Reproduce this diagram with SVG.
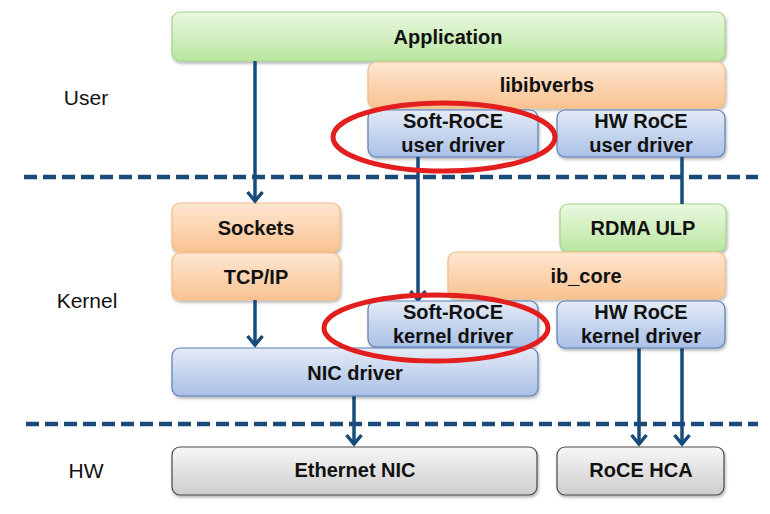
<svg xmlns="http://www.w3.org/2000/svg" width="770" height="514" viewBox="0 0 770 514">
<defs>
<linearGradient id="gGreen" x1="0" y1="0" x2="0" y2="1"><stop offset="0" stop-color="#eaf8e0"/><stop offset="1" stop-color="#b9e6a0"/></linearGradient>
<linearGradient id="gOrange" x1="0" y1="0" x2="0" y2="1"><stop offset="0" stop-color="#fde7d2"/><stop offset="1" stop-color="#f9c290"/></linearGradient>
<linearGradient id="gBlue" x1="0" y1="0" x2="0" y2="1"><stop offset="0" stop-color="#e4ebf6"/><stop offset="1" stop-color="#a9c0e6"/></linearGradient>
<linearGradient id="gGray" x1="0" y1="0" x2="0" y2="1"><stop offset="0" stop-color="#f7f7f7"/><stop offset="1" stop-color="#cdcdcd"/></linearGradient>
<filter id="sh" x="-5%" y="-10%" width="110%" height="130%"><feDropShadow dx="1" dy="2" stdDeviation="1.5" flood-color="#000" flood-opacity="0.3"/></filter>
<marker id="arr" markerUnits="userSpaceOnUse" markerWidth="16" markerHeight="18" viewBox="0 0 16 18" refX="11" refY="9" orient="auto">
<path d="M2,1.5 L11,9 L2,16.5" fill="none" stroke="#174b7c" stroke-width="3.5"/>
</marker>
<style>
.box{filter:url(#sh);}
.green{fill:url(#gGreen);stroke:#a6d38b;stroke-width:1.2;}
.orange{fill:url(#gOrange);stroke:#f3bd86;stroke-width:1.2;}
.blue{fill:url(#gBlue);stroke:#5d7fb6;stroke-width:1.2;}
.gray{fill:url(#gGray);stroke:#4a4a4a;stroke-width:1.2;}
.t{font-family:"Liberation Sans",Arial,sans-serif;font-size:20px;font-weight:bold;fill:#111;text-anchor:middle;}
.lbl{font-family:"Liberation Sans",Arial,sans-serif;font-size:21px;fill:#111;text-anchor:middle;}
.dash{stroke:#1a4a78;stroke-width:4.5;stroke-dasharray:13 6;fill:none;}
.con{stroke:#174b7c;stroke-width:3.5;fill:none;}
.ell{fill:none;stroke:#e31e1e;stroke-width:5;}
</style>
</defs>
<rect width="770" height="514" fill="#fff"/>

<g id="labels">
<text class="lbl" x="86" y="105">User</text>
<text class="lbl" x="87" y="308">Kernel</text>
<text class="lbl" x="86" y="478">HW</text>
</g>

<g id="separators">
<line class="dash" x1="24" y1="177" x2="758" y2="177"/>
<line class="dash" x1="26" y1="424" x2="758" y2="424"/>
</g>

<g id="application"><rect class="box green" x="172" y="12" width="553" height="49" rx="8"/><text class="t" x="448" y="44">Application</text></g>
<g id="libibverbs"><rect class="box orange" x="368" y="62" width="357" height="46" rx="8"/><text class="t" x="547" y="92">libibverbs</text></g>
<g id="softroce-user"><rect class="box blue" x="368" y="110" width="170" height="47" rx="8"/><text class="t" x="453" y="128">Soft-RoCE</text><text class="t" x="453" y="152">user driver</text></g>
<g id="hwroce-user"><rect class="box blue" x="557" y="110" width="168" height="47" rx="8"/><text class="t" x="641" y="128">HW RoCE</text><text class="t" x="641" y="152">user driver</text></g>

<g id="sockets"><rect class="box orange" x="172" y="203" width="168" height="49" rx="8"/><text class="t" x="256" y="235">Sockets</text></g>
<g id="tcpip"><rect class="box orange" x="172" y="253" width="168" height="47" rx="8"/><text class="t" x="256" y="284">TCP/IP</text></g>
<g id="rdma-ulp"><rect class="box green" x="560" y="204" width="166" height="48" rx="8"/><text class="t" x="643" y="235">RDMA ULP</text></g>
<g id="ib-core"><rect class="box orange" x="448" y="252" width="277" height="47" rx="8"/><text class="t" x="586" y="283">ib_core</text></g>

<g id="connectors">
<line class="con" x1="255" y1="61" x2="255" y2="201" marker-end="url(#arr)"/>
<line class="con" x1="418" y1="157" x2="418" y2="300" marker-end="url(#arr)"/>
<line class="con" x1="682" y1="157" x2="682" y2="204"/>
<line class="con" x1="255" y1="300" x2="255" y2="345" marker-end="url(#arr)"/>
<line class="con" x1="354" y1="396" x2="354" y2="444" marker-end="url(#arr)"/>
<line class="con" x1="639" y1="348" x2="639" y2="444" marker-end="url(#arr)"/>
<line class="con" x1="682" y1="348" x2="682" y2="444" marker-end="url(#arr)"/>
</g>

<g id="softroce-kernel"><rect class="box blue" x="368" y="301" width="170" height="46" rx="8"/><text class="t" x="453" y="319">Soft-RoCE</text><text class="t" x="453" y="343">kernel driver</text></g>
<g id="hwroce-kernel"><rect class="box blue" x="557" y="301" width="168" height="47" rx="8"/><text class="t" x="641" y="319">HW RoCE</text><text class="t" x="641" y="343">kernel driver</text></g>
<g id="nic-driver"><rect class="box blue" x="172" y="348" width="366" height="48" rx="8"/><text class="t" x="355" y="380">NIC driver</text></g>

<g id="ethernet-nic"><rect class="box gray" x="172" y="447" width="365" height="48" rx="8"/><text class="t" x="355" y="477">Ethernet NIC</text></g>
<g id="roce-hca"><rect class="box gray" x="557" y="447" width="167" height="48" rx="8"/><text class="t" x="641" y="477">RoCE HCA</text></g>

<g id="highlights">
<ellipse class="ell" cx="444" cy="137" rx="111" ry="34"/>
<ellipse class="ell" cx="436" cy="328" rx="112" ry="33"/>
</g>
</svg>
